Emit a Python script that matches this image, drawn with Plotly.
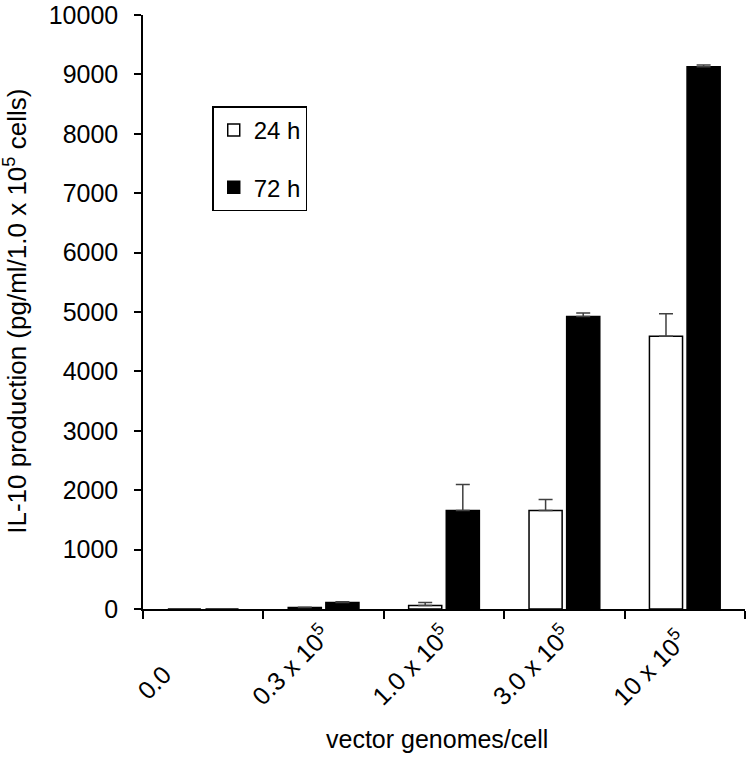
import plotly.graph_objects as go

categories = ["0.0", "0.3 x 10<sup>5</sup>", "1.0 x 10<sup>5</sup>", "3.0 x 10<sup>5</sup>", "10 x 10<sup>5</sup>"]
series_names = ["24 h", "72 h"]
values_24h = [0, 25, 60, 1660, 4590]
errors_24h = [0, 5, 50, 185, 380]
values_72h = [0, 110, 1660, 4925, 9130]
errors_72h = [0, 10, 435, 60, 30]
y_ticks = [0, 1000, 2000, 3000, 4000, 5000, 6000, 7000, 8000, 9000, 10000]

FONT = "Liberation Sans, Arial, sans-serif"

# Excel aligns rotated category labels by their start; pad short labels so
# that the rotated texts start on a common baseline like in the original.
def visible_len(s):
    return len(s.replace("<sup>", "").replace("</sup>", ""))

longest = max(visible_len(c) for c in categories)
tick_text = [c + "\u00a0" * round(1.3 * (longest - visible_len(c))) for c in categories]

fig = go.Figure()
fig.add_trace(go.Bar(
    name=series_names[0], x=categories, y=values_24h, legendgroup=series_names[0],
    marker=dict(color="white", line=dict(color="black", width=1.5)),
    error_y=dict(type="data", symmetric=False, array=errors_24h,
                 arrayminus=[0] * len(errors_24h), color="#404040",
                 thickness=1.5, width=7),
))
fig.add_trace(go.Bar(
    name=series_names[1], x=categories, y=values_72h, legendgroup=series_names[1],
    marker=dict(color="black", line=dict(color="black", width=1.5)),
    error_y=dict(type="data", symmetric=False, array=errors_72h,
                 arrayminus=[0] * len(errors_72h), color="#404040",
                 thickness=1.5, width=7),
))

fig.update_layout(
    width=751, height=757,
    margin=dict(l=143, r=6, t=15, b=148, autoexpand=False),
    plot_bgcolor="white", paper_bgcolor="white",
    font=dict(family=FONT, size=25, color="black"),
    barmode="group", bargap=0.375, bargroupgap=0.12,
    showlegend=True,
    legend=dict(x=0.115, y=0.846, xanchor="left", yanchor="top",
                bordercolor="black", borderwidth=1.5, bgcolor="white",
                font=dict(family=FONT, size=24), tracegroupgap=23,
                traceorder="grouped"),
    xaxis=dict(type="category", showline=True, linecolor="black", linewidth=1.5,
               ticks="outside", ticklen=8, tickwidth=1.5, tickcolor="black",
               tickson="boundaries", tickangle=-45, showgrid=False,
               automargin=False,
               tickvals=categories, ticktext=tick_text,
               tickfont=dict(family=FONT, size=25)),
    yaxis=dict(range=[0, 10000], tickvals=y_ticks, tickformat="d", showline=True,
               linecolor="black", linewidth=1.5, ticks="outside", ticklen=7,
               tickwidth=1.5, tickcolor="black", showgrid=False, zeroline=False,
               automargin=False,
               ticklabelstandoff=11, ticklabeloverflow="allow",
               tickfont=dict(family=FONT, size=25)),
    annotations=[
        dict(text="IL-10 production (pg/ml/1.0 x 10<sup>5</sup> cells)",
             xref="paper", yref="paper", x=-0.211, y=0.502, textangle=-90,
             showarrow=False, xanchor="center", yanchor="middle",
             font=dict(family=FONT, size=26)),
        dict(text="vector genomes/cell", xref="paper", yref="paper",
             x=0.488, y=-0.219, showarrow=False, xanchor="center", yanchor="middle",
             font=dict(family=FONT, size=25)),
    ],
)

fig.write_html("out.html", config={"displayModeBar": False},
               post_script="document.body.style.margin='0';")
